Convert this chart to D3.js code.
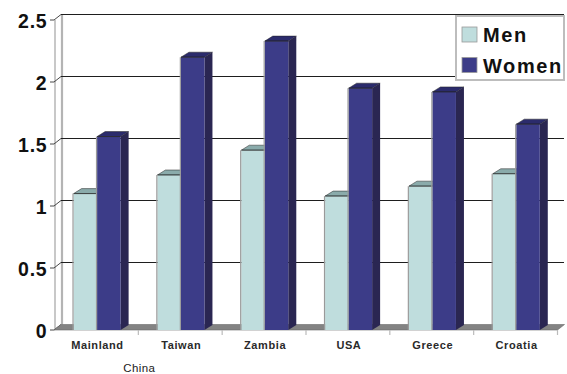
<!DOCTYPE html>
<html>
<head>
<meta charset="utf-8">
<script src="https://cdn.jsdelivr.net/npm/d3@7"></script>
<style>
  html, body { margin: 0; padding: 0; background: #fff; }
  svg { display: block; }
</style>
</head>
<body>
<script>
// Chart data
const categories = ["Mainland", "Taiwan", "Zambia", "USA", "Greece", "Croatia"];
const menValues = [1.10, 1.25, 1.45, 1.08, 1.16, 1.26];
const womenValues = [1.56, 2.20, 2.33, 1.95, 1.92, 1.66];
const yTicks = [0, 0.5, 1, 1.5, 2, 2.5];
const seriesNames = ["Men", "Women"];

const W = 567, H = 374;
const svg = d3.select("body").append("svg").attr("width", W).attr("height", H);

// Front plane scales; the back wall is offset by the depth vector
const x = d3.scaleBand().domain(categories).range([54.5, 557.5]);
const y = d3.scaleLinear().domain([0, 2.5]).range([330, 20]);
const wallDepth = { dx: 7, dy: -5.5 };
const barDepth = { dx: 8, dy: -5 };
const backRight = 564;

const colors = {
  Men: { front: "#bfdddd", top: "#8aabab", side: "#7e9c9c" },
  Women: { front: "#3c3c88", top: "#2b2b6c", side: "#2a2652" }
};

// Left side wall (thin, seen nearly edge-on)
const wallL = x.range()[0] - 0.5;
svg.append("rect").attr("x", wallL).attr("y", y(2.5) + wallDepth.dy)
  .attr("width", wallDepth.dx).attr("height", y(0) - y(2.5)).attr("fill", "#fff");
svg.append("line").attr("x1", wallL + 1).attr("x2", wallL + 1)
  .attr("y1", y(2.5)).attr("y2", y(0))
  .attr("stroke", "#c8c8c8").attr("stroke-width", 2);
svg.append("line").attr("x1", wallL + wallDepth.dx + 1).attr("x2", wallL + wallDepth.dx + 1)
  .attr("y1", y(2.5) + wallDepth.dy).attr("y2", y(0) + wallDepth.dy)
  .attr("stroke", "#b4b4b4").attr("stroke-width", 2.2);

// Gridlines on back wall, diagonals across the side wall, and front ticks
const grid = svg.append("g");
yTicks.forEach(v => {
  const yf = y(v), yb = y(v) + wallDepth.dy;
  if (v > 0) {
    grid.append("line").attr("x1", wallL + wallDepth.dx).attr("x2", backRight)
      .attr("y1", yb).attr("y2", yb).attr("stroke", "#1e1e1e").attr("stroke-width", 1);
  }
  grid.append("line").attr("x1", wallL).attr("x2", wallL + wallDepth.dx)
    .attr("y1", yf).attr("y2", yb).attr("stroke", "#333").attr("stroke-width", 0.9);
  grid.append("line").attr("x1", wallL - 4).attr("x2", wallL)
    .attr("y1", yf).attr("y2", yf).attr("stroke", "#333").attr("stroke-width", 0.9);
});

// Floor
const x1 = x.range()[1];
svg.append("path")
  .attr("d", `M${wallL},${y(0)} L${x1},${y(0)} L${x1 + wallDepth.dx},${y(0) + wallDepth.dy} L${wallL + wallDepth.dx},${y(0) + wallDepth.dy} Z`)
  .attr("fill", "#838383").attr("stroke", "#6a6a6a").attr("stroke-width", 0.6);

// Category ticks below the floor
categories.forEach(c => {
  const tx = x(c) + x.bandwidth();
  svg.append("line").attr("x1", tx).attr("x2", tx).attr("y1", y(0)).attr("y2", y(0) + 5)
    .attr("stroke", "#bbb").attr("stroke-width", 1.2);
});

// 3D bars
const barW = 23.5;
function drawBar(g, bx, v, col) {
  const yt = y(v), yb = y(0);
  const { dx, dy } = barDepth;
  g.append("path")
    .attr("d", `M${bx + barW},${yt} L${bx + barW + dx},${yt + dy} L${bx + barW + dx},${yb + dy} L${bx + barW},${yb} Z`)
    .attr("fill", col.side);
  g.append("path")
    .attr("d", `M${bx},${yt} L${bx + dx},${yt + dy} L${bx + barW + dx},${yt + dy} L${bx + barW},${yt} Z`)
    .attr("fill", col.top).attr("stroke", "#222").attr("stroke-width", 0.5);
  g.append("rect").attr("x", bx).attr("y", yt).attr("width", barW).attr("height", yb - yt)
    .attr("fill", col.front);
  g.append("line").attr("x1", bx).attr("x2", bx + barW).attr("y1", yt).attr("y2", yt)
    .attr("stroke", "#222").attr("stroke-width", 0.8);
  g.append("line").attr("x1", bx - 0.6).attr("x2", bx - 0.6).attr("y1", yt).attr("y2", yb)
    .attr("stroke", "#9a9a9a").attr("stroke-width", 1.2);
}
const bars = svg.append("g");
categories.forEach((c, i) => {
  const cx = x(c) + x.bandwidth() / 2 + 0.7;
  drawBar(bars, cx - barW, menValues[i], colors.Men);
  drawBar(bars, cx, womenValues[i], colors.Women);
});

// Y axis labels
svg.append("g").selectAll("text").data(yTicks).join("text")
  .attr("x", 47.5).attr("y", d => y(d) + 3)
  .attr("text-anchor", "end").attr("dominant-baseline", "middle")
  .attr("font-family", "Liberation Sans, Arial, sans-serif")
  .attr("font-weight", "bold").attr("font-size", 19.5).attr("letter-spacing", 0.8)
  .attr("fill", "#111")
  .text(d => d);

// Category labels
svg.append("g").selectAll("text").data(categories).join("text")
  .attr("x", d => x(d) + x.bandwidth() / 2 + 1).attr("y", 348.5)
  .attr("text-anchor", "middle")
  .attr("font-family", "Liberation Sans, Arial, sans-serif")
  .attr("font-weight", "bold").attr("font-size", 11).attr("letter-spacing", 0.6)
  .attr("fill", "#2a2a2a")
  .text(d => d);
svg.append("text")
  .attr("x", x("Taiwan") + 1).attr("y", 372)
  .attr("text-anchor", "middle")
  .attr("font-family", "Liberation Sans, Arial, sans-serif")
  .attr("font-size", 11.5).attr("letter-spacing", 0.4)
  .attr("fill", "#222")
  .text("China");

// Legend
const lg = svg.append("g");
lg.append("rect").attr("x", 456).attr("y", 16).attr("width", 108).attr("height", 64)
  .attr("fill", "#fff").attr("stroke", "#bdbdbd").attr("stroke-width", 2);
seriesNames.forEach((s, i) => {
  const ly = 27 + i * 30.5;
  lg.append("rect").attr("x", 462).attr("y", ly).attr("width", 15).attr("height", 15)
    .attr("fill", colors[s].front).attr("stroke", "#999").attr("stroke-width", 0.8);
  lg.append("text").attr("x", 483).attr("y", ly + 15)
    .attr("font-family", "Liberation Sans, Arial, sans-serif")
    .attr("font-weight", "bold").attr("font-size", 20).attr("letter-spacing", 1.6)
    .attr("fill", "#111")
    .text(s);
});
</script>
</body>
</html>
